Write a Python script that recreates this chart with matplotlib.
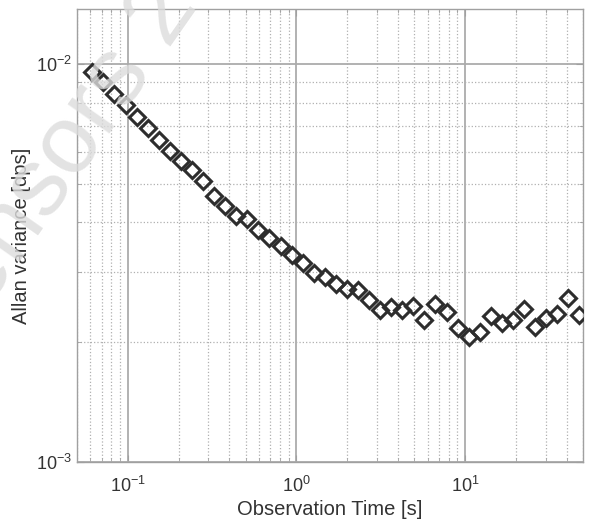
import matplotlib
matplotlib.use("Agg")
import matplotlib.pyplot as plt

plt.rcParams["font.family"] = ["Liberation Sans", "DejaVu Sans"]
plt.rcParams["mathtext.default"] = "regular"

# observation time (s) and Allan variance (dps)
tau = [0.0617, 0.0717, 0.0834, 0.0970, 0.113, 0.131, 0.153, 0.178, 0.207,
       0.240, 0.279, 0.325, 0.378, 0.440, 0.511, 0.595, 0.692, 0.805,
       0.936, 1.088, 1.266, 1.472, 1.713, 1.992, 2.317, 2.695, 3.134,
       3.646, 4.241, 4.932, 5.737, 6.673, 7.761, 9.027, 10.50, 12.21,
       14.21, 16.52, 19.22, 22.35, 26.00, 30.24, 35.17, 40.91, 47.58]
avar = [0.00955, 0.00901, 0.00838, 0.00787, 0.00734, 0.00689, 0.00644,
        0.00606, 0.00571, 0.00542, 0.00508, 0.00466, 0.00440, 0.00414,
        0.00408, 0.00383, 0.00366, 0.00348, 0.00331, 0.00316, 0.00299,
        0.00292, 0.00280, 0.00272, 0.00270, 0.00255, 0.00241, 0.00245,
        0.00241, 0.00246, 0.00227, 0.00249, 0.00238, 0.00217, 0.00206,
        0.00212, 0.00233, 0.00223, 0.00227, 0.00243, 0.00218, 0.00230,
        0.00235, 0.00258, 0.00234]

fig = plt.figure(figsize=(5.89, 5.24), dpi=100)
ax = fig.add_axes([0.1307, 0.1183, 0.8591, 0.8645])

ax.loglog(tau, avar, linestyle="none", marker="D", markersize=8.3,
          markerfacecolor="none", markeredgecolor="#2d2d2d",
          markeredgewidth=2.2, zorder=3)

ax.set_xlim(0.05, 50)
ax.set_ylim(1e-3, 1.374e-2)

# matlab-ish grid
ax.grid(True, which="major", color="#ababab", linestyle="-", linewidth=1.3)
ax.grid(True, which="minor", color="#b0b0b0", linestyle=":", linewidth=0.9)
ax.set_axisbelow(True)
for s in ax.spines.values():
    s.set_color("#a0a0a0")
    s.set_linewidth(1.0)
ax.tick_params(which="both", direction="in", top=True, right=True,
               color="#a0a0a0", labelcolor="#333333", labelsize=13)
ax.tick_params(which="major", length=5)
ax.tick_params(which="minor", length=3)
ax.tick_params(axis="x", pad=10)

ax.set_xlabel("Observation Time [s]", fontsize=14.5, color="#333333", labelpad=3)
ax.set_ylabel("Allan variance [dps]", fontsize=14.5, color="#333333", labelpad=4)

# faint watermark
fig.text(0.17, 0.80, "Sensors 2017", fontsize=70, color="#dcdcdc",
         rotation=55, ha="center", va="center", alpha=0.8, zorder=10)

fig.savefig("out.png", dpi=100)
